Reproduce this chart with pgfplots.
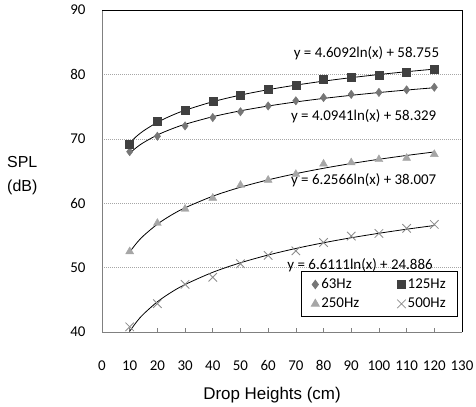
\documentclass[border=0pt]{standalone}
\usepackage{fontspec}
\setmainfont{Liberation Sans}
\newfontfamily\carlito{Carlito}
\usepackage{pgfplots}
\pgfplotsset{compat=1.18}
\usepackage{pgfplotstable}

\definecolor{cA}{HTML}{767676}
\definecolor{cB}{HTML}{404040}
\definecolor{cC}{HTML}{A6A6A6}
\definecolor{cD}{HTML}{8C8C8C}

% measured points
\pgfplotstableread{
x y
10 68.0
20 70.4
30 72.0
40 73.3
50 74.2
60 75.1
70 75.9
80 76.4
90 76.9
100 77.2
110 77.6
120 78.0
}\dataA
\pgfplotstableread{
x y
10 69.2
20 72.7
30 74.5
40 75.9
50 76.8
60 77.7
70 78.4
80 79.2
90 79.5
100 79.8
110 80.3
120 80.8
}\dataB
\pgfplotstableread{
x y
10 52.5
20 56.9
30 59.1
40 60.8
50 62.8
60 63.6
70 64.5
80 66.1
90 66.3
100 66.8
110 67.0
120 67.6
}\dataC
\pgfplotstableread{
x y
10 40.8
20 44.4
30 47.4
40 48.5
50 50.6
60 51.9
70 52.6
80 53.9
90 54.9
100 55.3
110 56.1
120 56.7
}\dataD
% logarithmic trend lines (values of the printed equations)
\pgfplotstableread{
x a b c d
10 67.756 69.368 52.413 40.109
12.5 68.670 70.397 53.810 41.584
15 69.416 71.237 54.950 42.789
20 70.594 72.563 56.750 44.691
25 71.507 73.591 58.146 46.166
30 72.254 74.432 59.287 47.372
40 73.432 75.758 61.087 49.273
50 74.345 76.786 62.483 50.749
60 75.092 77.627 63.624 51.954
70 75.723 78.337 64.588 52.973
80 76.270 78.953 65.424 53.856
90 76.752 79.496 66.161 54.635
100 77.183 79.981 66.820 55.331
110 77.573 80.420 67.416 55.961
120 77.930 80.821 67.960 56.537
}\trend

\begin{document}
\begin{tikzpicture}
\begin{axis}[name=ax,
  width=360bp, height=322bp, scale only axis,
  xmin=0, xmax=130, ymin=40, ymax=90,
  xtick={0,10,...,130}, ytick={40,50,...,90},
  axis line style={draw=none},
  ymajorgrids, grid style={gray!70, dash pattern=on 1bp off 1bp, line width=0.6bp},
  ytick style={draw=none},
  xtick style={draw=gray, line width=0.6bp},
  major tick length=4bp, tick align=inside, xtick pos=left,
  /pgf/number format/assume math mode=true,
  ticklabel style={font=\carlito\fontsize{15}{18}\selectfont},
  xticklabel style={yshift=-25bp},
  yticklabel style={xshift=-13bp},
  legend columns=2,
  legend cell align=left,
  legend style={at={(rel axis cs:0.989,0.047)}, anchor=south east,
    draw=black, line width=0.8bp, fill=white,
    font=\carlito\fontsize{15}{18}\selectfont,
    inner xsep=10bp, inner ysep=5bp, row sep=4bp,
    /tikz/every even column/.append style={column sep=36bp}},
  legend image code/.code={\draw[mark repeat=2,mark phase=2] plot coordinates {(0bp,0bp)(5bp,0bp)(10bp,0bp)};},
]
\addplot[forget plot, black, line width=0.8bp, smooth] table[x=x,y=a] {\trend};
\addplot[forget plot, black, line width=0.8bp, smooth] table[x=x,y=b] {\trend};
\addplot[forget plot, black, line width=0.8bp, smooth] table[x=x,y=c] {\trend};
\addplot[forget plot, black, line width=0.8bp, smooth] table[x=x,y=d] {\trend};

\addplot[only marks, mark=diamond*, mark size=4.2bp, mark options={fill=cA, draw=cA}] table {\dataA};
\addlegendentry{63Hz}
\addplot[only marks, mark=square*, mark size=4bp, mark options={fill=cB, draw=cB}] table {\dataB};
\addlegendentry{125Hz}
\addplot[only marks, mark=triangle*, mark size=4.6bp, mark options={fill=cC, draw=cC}] table {\dataC};
\addlegendentry{250Hz}
\addplot[only marks, mark=x, mark size=6bp, mark options={draw=cD, line width=0.8bp}] table {\dataD};
\addlegendentry{500Hz}

\node[font=\carlito\fontsize{15}{18}\selectfont] at (axis cs:95.5,83.25) {y = 4.6092ln(x) + 58.755};
\node[font=\carlito\fontsize{15}{18}\selectfont] at (axis cs:94.5,73.46) {y = 4.0941ln(x) + 58.329};
\node[font=\carlito\fontsize{15}{18}\selectfont] at (axis cs:94.5,63.6) {y = 6.2566ln(x) + 38.007};
\node[font=\carlito\fontsize{15}{18}\selectfont] at (axis cs:93.2,50.4) {y = 6.6111ln(x) + 24.886};
\end{axis}
\draw[gray, line width=0.8bp] (ax.north west) -- (ax.south west) -- (ax.south east);
\draw[black, line width=0.8bp] (ax.north west) -- (ax.north east) -- (ax.south east);
\node[anchor=west, align=left, inner sep=0pt, font=\fontsize{16}{24}\selectfont]
  at ([xshift=-95bp,yshift=-166bp]ax.north west) {SPL\\(dB)};
\node[anchor=base, inner sep=0pt, font=\fontsize{17}{20}\selectfont]
  at ([xshift=170bp,yshift=-67bp]ax.south west) {Drop Heights (cm)};
\pgfresetboundingbox
\path[use as bounding box] ([xshift=-102bp,yshift=-75bp]ax.south west) rectangle ([xshift=14bp,yshift=10bp]ax.north east);
\end{tikzpicture}
\end{document}
